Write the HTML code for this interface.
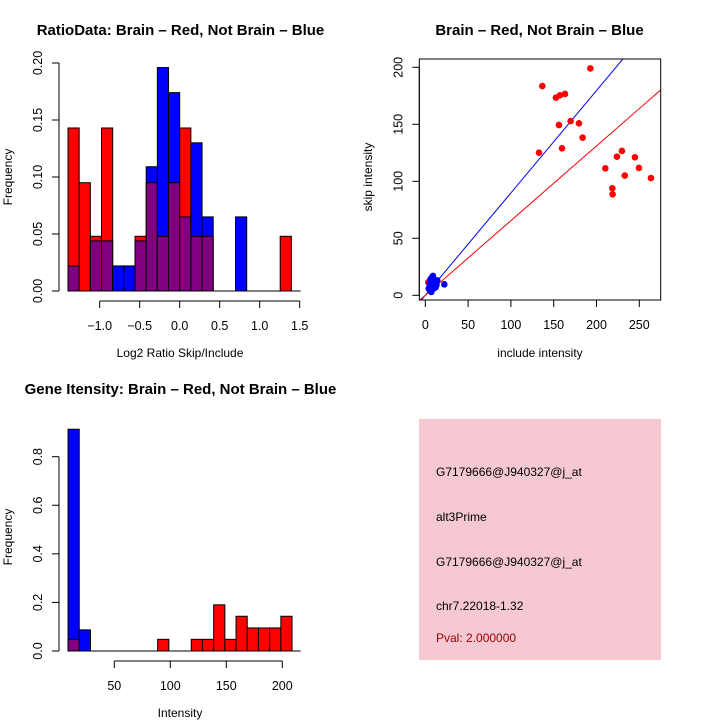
<!DOCTYPE html>
<html><head><meta charset="utf-8"><style>
body{margin:0;background:#fff}
svg{display:block;font-family:"Liberation Sans",sans-serif}
</style></head><body>
<svg id="s" width="720" height="720" viewBox="0 0 720 720" xmlns="http://www.w3.org/2000/svg">
<rect width="720" height="720" fill="#fff"/>
<g id="p1"></g>
<g id="p2"></g>
<g id="p3"></g>
<g>
<defs><pattern id="pk" width="2" height="2" patternUnits="userSpaceOnUse"><rect width="2" height="2" fill="#f2bfcb"/><rect width="1" height="1" fill="#f7d0d8"/><rect x="1" y="1" width="1" height="1" fill="#f7d0d8"/></pattern></defs>
<rect x="419" y="419" width="242" height="241" fill="url(#pk)"/>
<text x="436" y="476" font-size="12">G7179666@J940327@j_at</text>
<text x="436" y="521" font-size="12">alt3Prime</text>
<text x="436" y="566" font-size="12">G7179666@J940327@j_at</text>
<text x="436" y="610" font-size="12">chr7.22018-1.32</text>
<text x="436" y="642" font-size="12" fill="#a00000">Pval: 2.000000</text>
</g>
</svg>
<script>
// ---- Plot 1 data ----
const ratioBinStart = -1.396;
const ratioBinWidth = 0.1396;
const ratioRed  = [0.143,0.095,0.048,0.143,0,0,0.048,0.095,0.048,0.095,0.143,0.048,0.048,0,0,0,0,0,0,0.048];
const ratioBlue = [0.022,0,0.044,0.044,0.022,0.022,0.044,0.109,0.196,0.174,0.065,0.130,0.065,0,0,0.065,0,0,0,0];
const ratioXTicks = [-1.0,-0.5,0.0,0.5,1.0,1.5];
const ratioXTickLabels = ["\u22121.0","\u22120.5","0.0","0.5","1.0","1.5"];
const ratioYTicks = [0,0.05,0.10,0.15,0.20];
const ratioYTickLabels = ["0.00","0.05","0.10","0.15","0.20"];
// ---- Plot 2 data ----
const redX = [192.8,136.7,152.6,157.3,163.2,169.8,179.5,156.1,183.8,159.7,132.8,210.3,223.9,229.7,244.9,249.6,233,218.5,218.8,263.6,3.5,5];
const redY = [199,183.6,173.4,175.4,176.6,152.9,150.9,149.4,138.3,128.9,125.1,111.4,121.6,126.6,121.1,111.7,105,93.9,88.6,102.9,11.4,6];
const blueX = [22.2,5,6,7,8,9,10,11,12,13,14,6,8,10,12,7,9,11,4,5,8,10,13,6];
const blueY = [9.6,5,8,12,15,17,14,10,8,12,13,4,5,6,7,3,9,11,6,10,16,13,9,14];
const blueSlope = 0.898;
const redSlope = 0.655;
const scatXTicks = [0,50,100,150,200,250];
const scatYTicks = [0,50,100,150,200];
// ---- Plot 3 data ----
const intBinStart = 8.7;
const intBinWidth = 10;
const intRed  = [0.048,0,0,0,0,0,0,0,0.048,0,0,0.048,0.048,0.19,0.048,0.143,0.095,0.095,0.095,0.143];
const intBlue = [0.913,0.087,0,0,0,0,0,0,0,0,0,0,0,0,0,0,0,0,0,0];
const intXTicks = [50,100,150,200];
const intYTicks = [0,0.2,0.4,0.6,0.8];
const intYTickLabels = ["0.0","0.2","0.4","0.6","0.8"];

const NS="http://www.w3.org/2000/svg";
function mk(parent,tag,attrs,txt){const e=document.createElementNS(NS,tag);for(const k in attrs)e.setAttribute(k,attrs[k]);if(txt!==undefined)e.textContent=txt;parent.appendChild(e);return e;}

function histo(g,start,w,red,blue,xs,ys,baseY,x0,x1){
  for(let i=0;i<red.length;i++){
    const a=start+i*w,b=a+w,r=red[i],bl=blue[i];
    const hi=Math.max(r,bl),lo=Math.min(r,bl);
    if(hi>0){
      const r1=mk(g,'rect',{x:xs(a),y:ys(hi),width:xs(b)-xs(a),height:ys(0)-ys(hi),fill:r>=bl?'#ff0000':'#0000ff',stroke:'#000','stroke-width':1});
      
      
    }
    if(lo>0){
      const r2=mk(g,'rect',{x:xs(a),y:ys(lo),width:xs(b)-xs(a),height:ys(0)-ys(lo),fill:'#800080',stroke:'#000','stroke-width':1});
      
      
    }
  }
  const bl=mk(g,'line',{x1:x0,x2:x1,y1:baseY,y2:baseY,stroke:'#000'});
  
  
}
function xAxis(g,ticks,labels,xs,y){
  mk(g,'line',{x1:xs(ticks[0]),x2:xs(ticks[ticks.length-1]),y1:y,y2:y,stroke:'#000'});
  ticks.forEach((t,i)=>{
    mk(g,'line',{x1:xs(t),x2:xs(t),y1:y,y2:y+7,stroke:'#000'});
    const tl=mk(g,'text',{x:xs(t),y:y+29,'font-size':12.5,'text-anchor':'middle'},labels[i]);
    
    
  });
}
function yAxis(g,ticks,labels,ys,x){
  mk(g,'line',{x1:x,x2:x,y1:ys(ticks[0]),y2:ys(ticks[ticks.length-1]),stroke:'#000'});
  ticks.forEach((t,i)=>{
    mk(g,'line',{x1:x-7,x2:x,y1:ys(t),y2:ys(t),stroke:'#000'});
    const tl=mk(g,'text',{x:x-17,y:ys(t),'font-size':12.5,'text-anchor':'middle',transform:`rotate(-90 ${x-17} ${ys(t)})`},labels[i]);
    
    
  });
}
function label(g,x,y,txt,name,rot,bold,size){
  const t=mk(g,'text',{x:x,y:y,'font-size':size||12,'text-anchor':'middle','font-weight':bold?'bold':'normal'},txt);
  if(rot)t.setAttribute('transform',`rotate(-90 ${x} ${y})`);
  
  
}

// Plot 1
(function(){
  const g=document.getElementById('p1');
  const xs=v=>179.7+v*80, ys=v=>291-v*1140;
  histo(g,ratioBinStart,ratioBinWidth,ratioRed,ratioBlue,xs,ys,291,68,300.7);
  xAxis(g,ratioXTicks,ratioXTickLabels,xs,301);
  yAxis(g,ratioYTicks,ratioYTickLabels,ys,59);
  label(g,180.5,35,'RatioData: Brain \u2013 Red, Not Brain \u2013 Blue','plot1-title',false,true,15);
  label(g,180,357,'Log2 Ratio Skip/Include','x-axis-title');
  label(g,12,177,'Frequency','y-axis-title',true);
})();

// Plot 2
(function(){
  const g=document.getElementById('p2');
  const xs=v=>425.3+v*0.856, ys=v=>295.3-v*1.14;
  mk(g,'defs',{}).innerHTML='<clipPath id="cp"><rect x="419.3" y="59" width="241.4" height="241"/></clipPath>';
  const lg=mk(g,'g',{'clip-path':'url(#cp)'});
  const bl=mk(lg,'line',{x1:xs(-10),y1:ys(-10*blueSlope),x2:xs(300),y2:ys(300*blueSlope),stroke:'#0000ff'});
  
  
  const rl=mk(lg,'line',{x1:xs(-10),y1:ys(-10*redSlope),x2:xs(300),y2:ys(300*redSlope),stroke:'#ff0000'});
  
  
  redX.forEach((x,i)=>{
    const c=mk(g,'circle',{cx:xs(x),cy:ys(redY[i]),r:3.3,fill:'#ff0000'});
    
    
  });
  blueX.forEach((x,i)=>{
    const c=mk(g,'circle',{cx:xs(x),cy:ys(blueY[i]),r:3.3,fill:'#0000ff'});
    
    
  });
  const box=mk(g,'rect',{x:419.3,y:59,width:241.4,height:241,fill:'none',stroke:'#000'});
  
  
  xAxis(g,scatXTicks,scatXTicks.map(String),xs,300);
  yAxis(g,scatYTicks,scatYTicks.map(String),ys,419.3);
  label(g,539.5,35,'Brain \u2013 Red, Not Brain \u2013 Blue','plot2-title',false,true,15);
  label(g,540,357,'include intensity','x-axis-title');
  label(g,372,177,'skip intensity','y-axis-title',true);
})();

// Plot 3
(function(){
  const g=document.getElementById('p3');
  const xs=v=>114.3+(v-50)*1.12, ys=v=>651-v*242.9;
  histo(g,intBinStart,intBinWidth,intRed,intBlue,xs,ys,651,68,300.7);
  xAxis(g,intXTicks,intXTicks.map(String),xs,661);
  yAxis(g,intYTicks,intYTickLabels,ys,59);
  label(g,180.5,394,'Gene Itensity: Brain \u2013 Red, Not Brain \u2013 Blue','plot3-title',false,true,15);
  label(g,180,717,'Intensity','x-axis-title');
  label(g,12,537,'Frequency','y-axis-title',true);
})();
</script>
</body></html>
